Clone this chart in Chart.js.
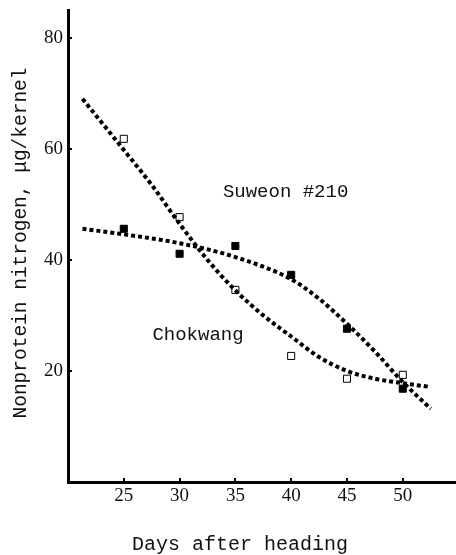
<!DOCTYPE html>
<html>
<head>
<meta charset="utf-8">
<script src="https://cdn.jsdelivr.net/npm/chart.js@4"></script>
<style>
  html, body { margin: 0; padding: 0; background: #fff; }
  canvas { display: block; }
</style>
</head>
<body>
<canvas id="chart" width="456" height="555"></canvas>
<script>
// Values
const xTicks = [25, 30, 35, 40, 45, 50];
const yTicks = [20, 40, 60, 80];
const obsDays = [25, 30, 35, 40, 45, 50];
const chokwangObs = [61.8, 47.7, 34.6, 22.7, 18.6, 19.3];
const suweonObs = [45.6, 41.1, 42.5, 37.3, 27.6, 16.8];

// fitted curves (dotted), read at several days
const chokwangCurveDays = [21.3, 25, 27.5, 30, 32.5, 35, 37.5, 40, 42.5, 45, 47.5, 50, 52.5];
const chokwangCurve = [69, 59.8, 53.5, 46.5, 40, 34.5, 30, 26.2, 22.5, 20, 18.6, 17.8, 17.1];
const suweonCurveDays = [21.3, 25, 30, 35, 40, 42.5, 45, 47.5, 50, 52.5];
const suweonCurve = [45.6, 44.6, 43, 40.5, 36.5, 33, 28.5, 23.5, 18, 13.2];

// labels placed in data coordinates
const curveLabels = [
    { text: "Suweon #210", x: 39.5, y: 52.2 },
    { text: "Chokwang", x: 31.65, y: 26.5 }
];

const xTitle = "Days after heading";
const yTitle = "Nonprotein nitrogen, \u03bcg/kernel";

function pairs(xs, ys) {
    return xs.map((x, i) => ({ x: x, y: ys[i] }));
}

// draws inward tick marks, axis titles and curve labels
const extrasPlugin = {
    id: "extras",
    afterDraw(chart) {
        const ctx = chart.ctx;
        const xs = chart.scales.x;
        const ys = chart.scales.y;
        const area = chart.chartArea;
        ctx.save();
        ctx.strokeStyle = "#000";
        ctx.lineWidth = 2;
        xTicks.forEach(v => {
            const px = Math.round(xs.getPixelForValue(v));
            ctx.beginPath();
            ctx.moveTo(px, area.bottom);
            ctx.lineTo(px, area.bottom - 4);
            ctx.stroke();
        });
        yTicks.forEach(v => {
            const py = Math.round(ys.getPixelForValue(v));
            ctx.beginPath();
            ctx.moveTo(area.left, py);
            ctx.lineTo(area.left + 4, py);
            ctx.stroke();
        });

        ctx.fillStyle = "#111";
        ctx.textAlign = "center";
        ctx.textBaseline = "middle";
        ctx.font = "19px 'Liberation Mono'";
        curveLabels.forEach(l => {
            ctx.fillText(l.text, xs.getPixelForValue(l.x), ys.getPixelForValue(l.y));
        });

        ctx.font = "20px 'Liberation Mono'";
        ctx.fillText(xTitle, 240, 545);

        ctx.translate(21, 243);
        ctx.rotate(-Math.PI / 2);
        ctx.font = "19.5px 'Liberation Mono'";
        ctx.fillText(yTitle, 0, 0);
        ctx.restore();
    }
};

const dotted = {
    borderColor: "#000",
    borderWidth: 4,
    borderDash: [4, 3],
    borderCapStyle: "butt",
    pointRadius: 0,
    fill: false,
    cubicInterpolationMode: "monotone",
    showLine: true
};

// no extra room for edge labels: the plot box is fixed
function noEdgePadding(s) {
    s.paddingLeft = 0;
    s.paddingRight = 0;
    s.paddingTop = 0;
    s.paddingBottom = 0;
}

new Chart(document.getElementById("chart").getContext("2d"), {
    type: "line",
    data: {
        datasets: [
            Object.assign({ label: "Chokwang fit", data: pairs(chokwangCurveDays, chokwangCurve) }, dotted),
            Object.assign({ label: "Suweon #210 fit", data: pairs(suweonCurveDays, suweonCurve) }, dotted),
            {
                label: "Chokwang",
                data: pairs(obsDays, chokwangObs),
                showLine: false,
                pointStyle: "rect",
                pointRadius: 5,
                pointBorderWidth: 1,
                pointBorderColor: "#000",
                pointBackgroundColor: "#fff"
            },
            {
                label: "Suweon #210",
                data: pairs(obsDays, suweonObs),
                showLine: false,
                pointStyle: "rect",
                pointRadius: 5,
                pointBorderWidth: 1,
                pointBorderColor: "#000",
                pointBackgroundColor: "#000"
            }
        ]
    },
    options: {
        responsive: false,
        animation: false,
        layout: { autoPadding: false, padding: { top: 10, right: 0, bottom: 0, left: 0 } },
        plugins: {
            legend: { display: false },
            tooltip: { enabled: false }
        },
        scales: {
            x: {
                type: "linear",
                min: 20,
                max: 54.77,
                afterBuildTicks: s => { s.ticks = xTicks.map(v => ({ value: v })); },
                afterFit: s => { s.height = 73; noEdgePadding(s); },
                grid: { display: true, drawOnChartArea: false, drawTicks: false },
                border: { display: true, color: "#000", width: 3 },
                ticks: {
                    color: "#111",
                    padding: 3,
                    maxRotation: 0,
                    font: { family: "'Liberation Serif'", size: 19 }
                }
            },
            y: {
                type: "linear",
                min: 0,
                max: 85,
                afterBuildTicks: s => { s.ticks = yTicks.map(v => ({ value: v })); },
                afterFit: s => { s.width = 68; noEdgePadding(s); },
                grid: { display: true, drawOnChartArea: false, drawTicks: false },
                border: { display: true, color: "#000", width: 3 },
                ticks: {
                    color: "#111",
                    padding: 5,
                    font: { family: "'Liberation Serif'", size: 19 }
                }
            }
        }
    },
    plugins: [extrasPlugin]
});
</script>
</body>
</html>
